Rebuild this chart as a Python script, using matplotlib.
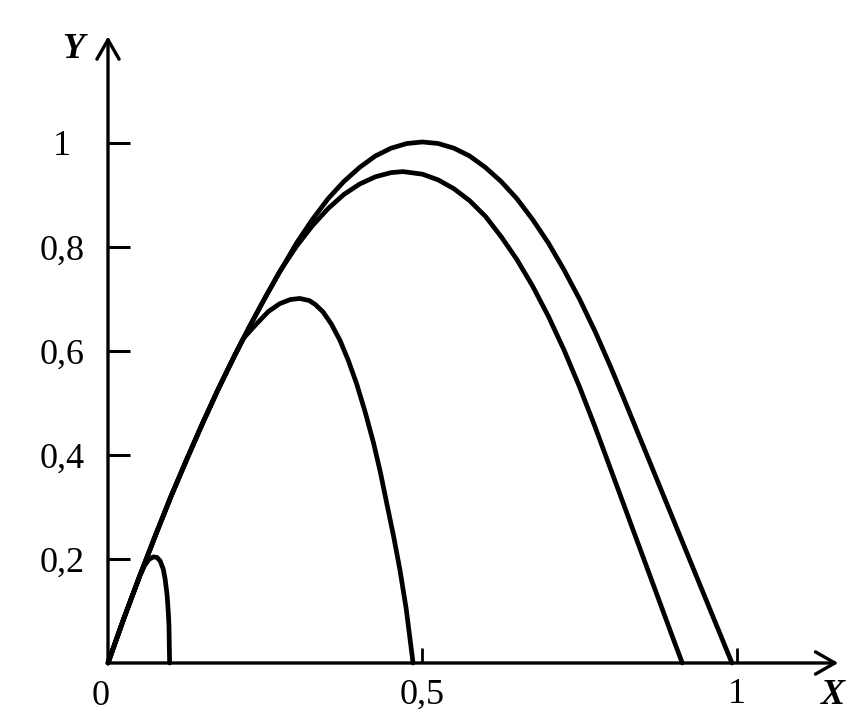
import numpy as np
import matplotlib
matplotlib.use("Agg")
import matplotlib.pyplot as plt

# trajectories (x, y in axis units)
top_x = [0, 0.025, 0.05, 0.075, 0.1, 0.125, 0.15, 0.175, 0.2, 0.225, 0.25, 0.273,
         0.3, 0.325, 0.35, 0.375, 0.4, 0.425, 0.45, 0.475, 0.5, 0.525, 0.55, 0.575,
         0.6, 0.625, 0.65, 0.675, 0.7, 0.725, 0.75, 0.775, 0.8, 0.825, 0.85, 0.875,
         0.9, 0.95, 0.992]
top_y = [0, 0.085, 0.166, 0.244, 0.320, 0.391, 0.460, 0.526, 0.588, 0.647, 0.703, 0.752,
         0.808, 0.853, 0.893, 0.926, 0.953, 0.975, 0.990, 0.999, 1.002, 0.999, 0.990, 0.975,
         0.953, 0.926, 0.893, 0.853, 0.808, 0.756, 0.699, 0.636, 0.567, 0.494, 0.420, 0.346,
         0.272, 0.124, 0]

mid_x = [0, 0.025, 0.05, 0.075, 0.1, 0.125, 0.15, 0.175, 0.2, 0.225, 0.25, 0.273,
         0.3, 0.325, 0.35, 0.375, 0.4, 0.425, 0.45, 0.469, 0.5, 0.525, 0.55, 0.575,
         0.6, 0.625, 0.65, 0.675, 0.7, 0.725, 0.75, 0.775, 0.8, 0.85, 0.9, 0.913]
mid_y = [0, 0.085, 0.166, 0.244, 0.320, 0.391, 0.460, 0.526, 0.588, 0.647, 0.703, 0.753,
         0.802, 0.841, 0.874, 0.901, 0.921, 0.935, 0.943, 0.945, 0.940, 0.929, 0.912, 0.889,
         0.859, 0.820, 0.776, 0.725, 0.667, 0.602, 0.530, 0.452, 0.370, 0.206, 0.042, 0]

low_x = [0, 0.025, 0.05, 0.075, 0.1, 0.125, 0.15, 0.175, 0.2, 0.215, 0.236, 0.255,
         0.273, 0.29, 0.305, 0.32, 0.33, 0.342, 0.355, 0.369, 0.382, 0.395, 0.409, 0.422,
         0.433, 0.443, 0.454, 0.464, 0.474, 0.485]
low_y = [0, 0.085, 0.166, 0.244, 0.320, 0.391, 0.460, 0.526, 0.588, 0.624, 0.652, 0.676,
         0.691, 0.699, 0.701, 0.697, 0.689, 0.675, 0.652, 0.620, 0.582, 0.538, 0.482, 0.424,
         0.367, 0.308, 0.244, 0.180, 0.105, 0]

small_x = [0, 0.025, 0.05, 0.058, 0.065, 0.072, 0.078, 0.083, 0.088, 0.091, 0.094,
           0.096, 0.097, 0.0975, 0.098]
small_y = [0, 0.085, 0.166, 0.187, 0.199, 0.204, 0.203, 0.196, 0.180, 0.160, 0.130,
           0.095, 0.070, 0.030, 0]

yticks = [0.2, 0.4, 0.6, 0.8, 1.0]
ylabels = ["0,2", "0,4", "0,6", "0,8", "1"]
xticks = [0.5, 1.0]
xlabels = ["0,5", "1"]

serif = "Liberation Serif"

fig = plt.figure(figsize=(8.66, 7.19), dpi=100)
ax = fig.add_axes([0, 0, 1, 1])
ax.set_xlim(-0.1717, 1.2051)
ax.set_ylim(-0.1077, 1.275)

for xs, ys in [(top_x, top_y), (mid_x, mid_y), (low_x, low_y), (small_x, small_y)]:
    ax.plot(xs, ys, color="black", lw=3.4, solid_joinstyle="round", solid_capstyle="round")

# axes drawn as arrows, spines hidden
for s in ["top", "right", "left", "bottom"]:
    ax.spines[s].set_visible(False)
ax.spines["left"].set_position(("data", 0))
ax.spines["bottom"].set_position(("data", 0))
arr = dict(arrowstyle="->,head_length=0.7,head_width=0.4", lw=2.4, color="black",
           mutation_scale=20, shrinkA=0, shrinkB=0)
ax.annotate("", xy=(1.161, 0), xytext=(0, 0), arrowprops=arr)
ax.annotate("", xy=(0, 1.205), xytext=(0, 0), arrowprops=arr)

ax.set_yticks(yticks)
ax.set_yticklabels(ylabels, fontfamily=serif, fontsize=26, ha="center")
ax.tick_params(axis="y", direction="in", length=16, width=2.2, pad=33)
ax.set_xticks(xticks)
ax.set_xticklabels(xlabels, fontfamily=serif, fontsize=26)
ax.tick_params(axis="x", direction="in", length=11, width=2.0, pad=11)

ax.text(-0.012, -0.065, "0", fontfamily=serif, fontsize=26, ha="center", va="center")
ax.text(1.153, -0.062, "X", fontfamily=serif, fontsize=26, style="italic",
        fontweight="bold", ha="center", va="center")
ax.text(-0.055, 1.18, "Y", fontfamily=serif, fontsize=26, style="italic",
        fontweight="bold", ha="center", va="center")

fig.savefig("out.png", dpi=100)
